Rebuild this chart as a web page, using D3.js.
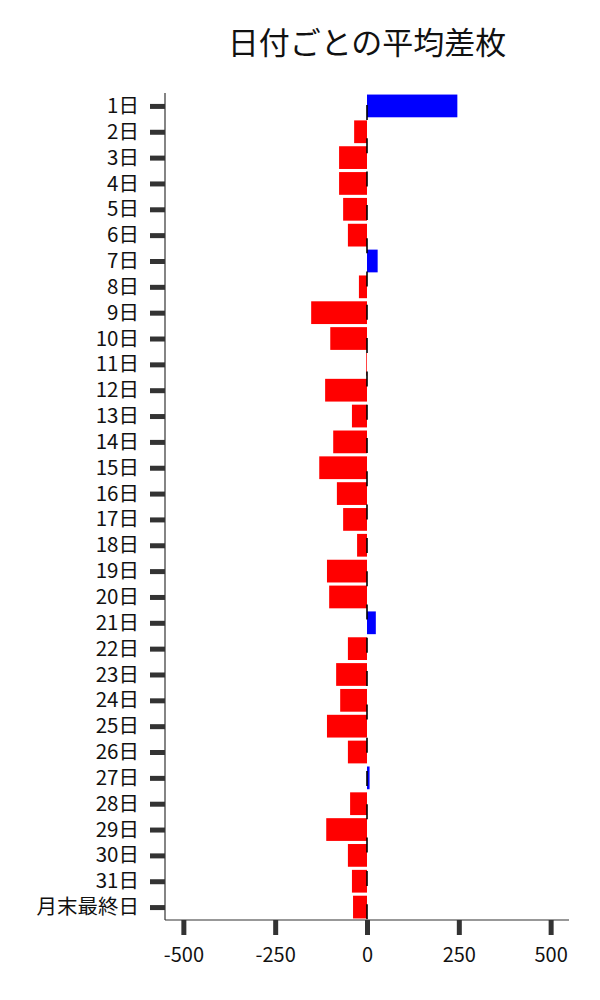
<!DOCTYPE html>
<html>
<head>
<meta charset="utf-8">
<script src="https://cdn.jsdelivr.net/npm/d3@7"></script>
<style>
  body { margin: 0; background: #fff; }
  text { font-family: "Noto Sans CJK JP", "Noto Sans", sans-serif; }
</style>
</head>
<body>
<svg id="chart" width="600" height="1000"></svg>
<script>
const days = ["1日","2日","3日","4日","5日","6日","7日","8日","9日","10日",
  "11日","12日","13日","14日","15日","16日","17日","18日","19日","20日",
  "21日","22日","23日","24日","25日","26日","27日","28日","29日","30日",
  "31日","月末最終日"];
const avgDiff = [246, -35, -76, -76, -65, -52, 29, -22, -152, -100,
  -2, -114, -41, -92, -130, -82, -65, -27, -109, -103,
  24, -52, -84, -73, -109, -52, 7, -46, -111, -52,
  -41, -38];
const xTicks = [-500, -250, 0, 250, 500];

const svg = d3.select("#chart");
const plotLeft = 165, plotRight = 569, plotTop = 93, plotBottom = 920;

const x = d3.scaleLinear().domain([-550, 550]).range([plotLeft, plotRight]);
const y = d3.scalePoint().domain(days).range([plotTop, plotBottom]).padding(0.5);
const barH = y.step() * 0.88;

// Title
svg.append("text")
    .attr("x", (plotLeft + plotRight) / 2)
    .attr("y", 54)
    .attr("text-anchor", "middle")
    .attr("font-size", 31)
    .attr("fill", "#111")
    .text("日付ごとの平均差枚");

// Bars
svg.selectAll(".bar")
    .data(days.map((d, i) => ({ day: d, v: avgDiff[i] })))
    .enter().append("rect")
    .attr("class", "bar")
    .attr("x", d => x(Math.min(0, d.v)))
    .attr("y", d => y(d.day) - barH / 2)
    .attr("width", d => Math.abs(x(d.v) - x(0)))
    .attr("height", barH)
    .attr("fill", d => d.v >= 0 ? "#0000ff" : "#ff0000");

// Zero line (dashed)
svg.append("line")
    .attr("x1", x(0)).attr("x2", x(0))
    .attr("y1", plotTop).attr("y2", plotBottom)
    .attr("stroke", "#000")
    .attr("stroke-width", 1.6)
    .attr("stroke-dasharray", "15 18.3")
    .attr("stroke-dashoffset", 21.3);

// Y axis
const yAxis = svg.append("g")
    .attr("transform", `translate(${plotLeft},0)`)
    .call(d3.axisLeft(y).tickSize(15).tickPadding(11));
yAxis.select(".domain").attr("stroke", "#333").attr("stroke-width", 1.2)
    .attr("d", `M0,${plotTop}V${plotBottom}`);
yAxis.selectAll(".tick line").attr("stroke", "#333").attr("stroke-width", 5);
yAxis.selectAll(".tick text").attr("font-size", 20.5).attr("fill", "#111")
    .attr("font-family", '"Noto Sans CJK JP", sans-serif');

// X axis
const xAxis = svg.append("g")
    .attr("transform", `translate(0,${plotBottom})`)
    .call(d3.axisBottom(x).tickValues(xTicks).tickFormat(d => String(d))
      .tickSize(15).tickPadding(13));
xAxis.select(".domain").attr("stroke", "#333").attr("stroke-width", 1.2)
    .attr("d", `M${plotLeft},0H${plotRight}`);
xAxis.selectAll(".tick line").attr("stroke", "#333").attr("stroke-width", 5);
xAxis.selectAll(".tick text").attr("font-size", 20).attr("fill", "#111")
    .attr("font-family", '"Noto Sans CJK JP", sans-serif');
</script>
</body>
</html>
